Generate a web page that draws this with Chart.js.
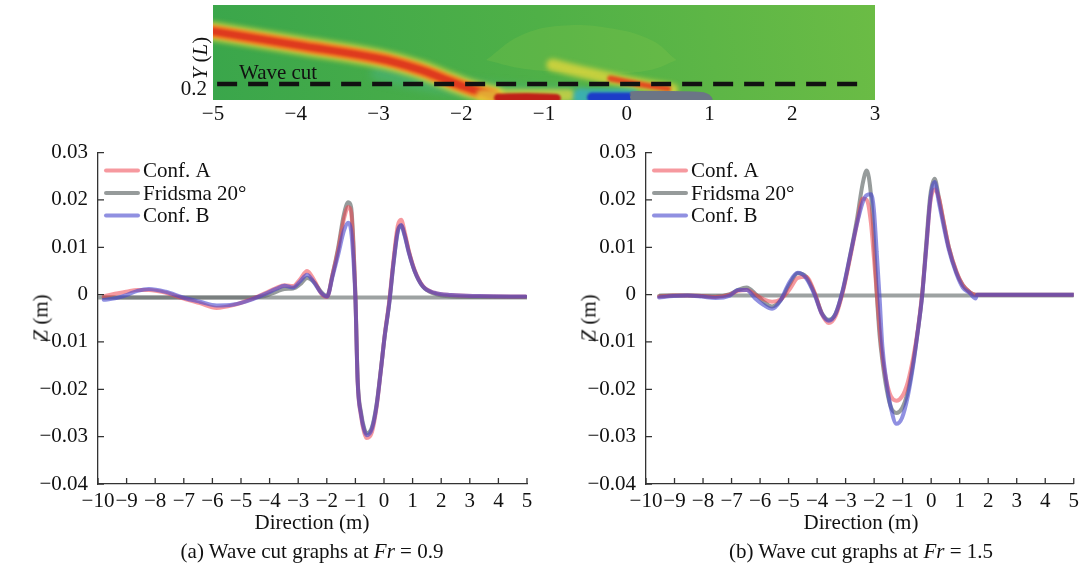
<!DOCTYPE html>
<html>
<head>
<meta charset="utf-8">
<script src="https://cdn.jsdelivr.net/npm/chart.js@4.4.1/dist/chart.umd.min.js"></script>
<style>
  html, body { margin: 0; padding: 0; background: #fff; }
  #page { position: relative; width: 1084px; height: 572px; overflow: hidden;
          font-family: 'Liberation Serif', 'DejaVu Serif', serif; color: #111; }
  canvas { position: absolute; }
  .txt { position: absolute; font-size: 21px; line-height: 1; white-space: nowrap; }
  .ctr { transform: translate(-50%, -50%); }
  .rot { transform: translate(-50%, -50%) rotate(-90deg); }
</style>
</head>
<body>
<div id="page">
  <canvas id="topView" width="760" height="130" style="left:150px;top:0"></canvas>
  <canvas id="fr09" width="540" height="390" style="left:0;top:130px"></canvas>
  <canvas id="fr15" width="544" height="390" style="left:540px;top:130px"></canvas>

  <div class="txt" style="left:239px;top:62px">Wave cut</div>
  <div class="txt rot" style="left:200px;top:58px"><i>Y</i> (<i>L</i>)</div>

  <div class="txt rot" style="left:41px;top:318px"><i>Z</i> (m)</div>
  <div class="txt rot" style="left:589px;top:318px"><i>Z</i> (m)</div>
  <div class="txt ctr" style="left:312px;top:522px">Direction (m)</div>
  <div class="txt ctr" style="left:861px;top:522px">Direction (m)</div>
  <div class="txt ctr" style="left:312px;top:551px">(a) Wave cut graphs at <i>Fr</i> = 0.9</div>
  <div class="txt ctr" style="left:861px;top:551px">(b) Wave cut graphs at <i>Fr</i> = 1.5</div>
</div>

<script>
const serif = "'Liberation Serif', 'DejaVu Serif', serif"

// ---- wave cut, Fr = 0.9 ----
const fr09X = [-9.80, -9.41, -9.01, -8.62, -8.22, -7.63, -7.03, -6.44, -5.85, -5.26,
               -4.66, -4.17, -3.77, -3.48, -3.18, -2.93, -2.69, -2.44, -2.19, -1.99,
               -1.80, -1.60, -1.40, -1.25, -1.15, -1.07, -1.00, -0.92, -0.80, -0.69,
               -0.60, -0.42, -0.26, -0.11, 0.03, 0.18, 0.33, 0.48, 0.60, 0.72,
               0.87, 1.07, 1.36, 1.76, 2.35, 3.34, 4.95]
const fr09ConfA = [-0.0004, 0.0002, 0.0006, 0.0010, 0.0010, 0.0004, -0.0008, -0.0018, -0.0028, -0.0022,
                   -0.0010, 0.0003, 0.0014, 0.0020, 0.0018, 0.0033, 0.0050, 0.0030, 0.0002, -0.0005,
                   0.0042, 0.0095, 0.0160, 0.0185, 0.0175, 0.0100, -0.0003, -0.0185, -0.0258, -0.0292,
                   -0.0303, -0.0290, -0.0238, -0.0160, -0.0083, -0.0015, 0.0072, 0.0145, 0.0158, 0.0133,
                   0.0092, 0.0052, 0.0018, 0.0004, -0.0001, -0.0003, -0.0004]
const fr09Fridsma = [-0.0006, -0.0006, -0.0006, -0.0006, -0.0006, -0.0006, -0.0006, -0.0006, -0.0006, -0.0006,
                     -0.0006, -0.0003, 0.0006, 0.0012, 0.0013, 0.0022, 0.0035, 0.0026, 0.0005, -0.0003,
                     0.0042, 0.0100, 0.0170, 0.0195, 0.0185, 0.0110, 0.0000, -0.0180, -0.0250, -0.0283,
                     -0.0293, -0.0280, -0.0232, -0.0158, -0.0085, -0.0020, 0.0065, 0.0135, 0.0146, 0.0127,
                     0.0090, 0.0050, 0.0017, 0.0002, -0.0004, -0.0005, -0.0005]
const fr09ConfB = [-0.0011, -0.0008, -0.0001, 0.0008, 0.0012, 0.0006, -0.0006, -0.0015, -0.0023, -0.0021,
                   -0.0011, 0.0001, 0.0012, 0.0019, 0.0015, 0.0028, 0.0042, 0.0025, 0.0003, -0.0004,
                   0.0038, 0.0085, 0.0135, 0.0152, 0.0135, 0.0075, -0.0008, -0.0185, -0.0255, -0.0287,
                   -0.0297, -0.0283, -0.0235, -0.0160, -0.0085, -0.0020, 0.0065, 0.0132, 0.0147, 0.0125,
                   0.0088, 0.0050, 0.0017, 0.0004, -0.0001, -0.0003, -0.0004]
const fr09BaseX = [-10, 5]
const fr09Base = [-0.0006, -0.0006]

// ---- wave cut, Fr = 1.5 ----
const fr15X = [-9.54, -9.04, -8.55, -8.05, -7.56, -7.06, -6.77, -6.47, -6.17, -5.87,
               -5.58, -5.28, -4.98, -4.68, -4.39, -4.09, -3.84, -3.59, -3.35, -3.10,
               -2.85, -2.60, -2.40, -2.26, -2.11, -2.01, -1.91, -1.81, -1.71, -1.56,
               -1.41, -1.22, -1.02, -0.82, -0.62, -0.47, -0.32, -0.17, -0.03, 0.12,
               0.27, 0.42, 0.62, 0.88, 1.11, 1.36, 1.56, 1.61, 1.86, 2.85,
               4.0, 5.0]
const fr15ConfA = [-0.0004, -0.0002, -0.0002, -0.0003, -0.0005, 0.0000, 0.0008, 0.0010, 0.0000, -0.0010,
                   -0.0015, -0.0010, 0.0010, 0.0035, 0.0038, 0.0005, -0.0040, -0.0060, -0.0045, 0.0005,
                   0.0075, 0.0150, 0.0203, 0.0200, 0.0150, 0.0080, 0.0005, -0.0070, -0.0130, -0.0185,
                   -0.0215, -0.0224, -0.0215, -0.0185, -0.0130, -0.0075, 0.0000, 0.0100, 0.0195, 0.0222,
                   0.0205, 0.0160, 0.0100, 0.0050, 0.0020, 0.0005, 0.0000, 0.0000, 0.0000, 0.0000,
                   0.0000, 0.0000]
const fr15Fridsma = [-0.0003, -0.0002, -0.0002, -0.0003, -0.0004, 0.0001, 0.0010, 0.0015, 0.0002, -0.0015,
                     -0.0025, -0.0012, 0.0020, 0.0045, 0.0038, 0.0003, -0.0038, -0.0053, -0.0040, 0.0008,
                     0.0080, 0.0160, 0.0235, 0.0262, 0.0210, 0.0120, 0.0005, -0.0085, -0.0140, -0.0200,
                     -0.0238, -0.0250, -0.0240, -0.0205, -0.0140, -0.0078, -0.0003, 0.0110, 0.0210, 0.0245,
                     0.0205, 0.0158, 0.0100, 0.0048, 0.0020, 0.0005, 0.0000, 0.0000, 0.0000, 0.0000,
                     0.0000, 0.0000]
const fr15ConfB = [-0.0006, -0.0003, -0.0002, -0.0004, -0.0007, -0.0002, 0.0010, 0.0010, -0.0008, -0.0022,
                   -0.0030, -0.0012, 0.0025, 0.0046, 0.0035, 0.0000, -0.0040, -0.0055, -0.0040, 0.0010,
                   0.0080, 0.0150, 0.0195, 0.0210, 0.0212, 0.0180, 0.0090, -0.0005, -0.0110, -0.0188,
                   -0.0240, -0.0273, -0.0260, -0.0215, -0.0145, -0.0078, -0.0005, 0.0100, 0.0200, 0.0238,
                   0.0195, 0.0150, 0.0095, 0.0045, 0.0015, 0.0003, -0.0008, 0.0000, 0.0000, 0.0000,
                   0.0000, 0.0000]
const fr15BaseX = [-9.54, 5]
const fr15Base = [-0.0002, -0.0002]

const seriesNames = ['Conf. A', 'Fridsma 20\u00b0', 'Conf. B']

// ---- top view of the wave pattern (x and y in ship lengths) ----
const cutLevel = 0.2
const cutX = [-4.95, 2.9]
const crestX = [-1.7, -1.3, -0.8, -0.2, 0.3, 0.6]
const crestTop = [0.50, 0.80, 0.93, 0.90, 0.75, 0.50]
const crestBottom = [0.50, 0.40, 0.35, 0.33, 0.38, 0.50]
const troughX = [-3.0, -2.3, -1.7, -1.1, -0.6]
const troughY = [0.34, 0.20, 0.12, 0.08, 0.07]
const wakeX = [-5.0, -4.0, -3.0, -2.5, -2.2, -2.0, -1.8, -1.6]
const wakeY = [0.86, 0.69, 0.52, 0.38, 0.26, 0.18, 0.11, 0.06]
const bowX = [-0.9, -0.5, -0.1, 0.2, 0.55]
const bowY = [0.44, 0.34, 0.25, 0.19, 0.13]
const bowCoreX = [-0.2, 0.2, 0.5]
const bowCoreY = [0.27, 0.19, 0.14]
const sternX = [-1.55, -1.2, -0.85]
const sternY = [0.025, 0.03, 0.02]
const dipX = [-0.42, 0.04]
const dipY = [0.03, 0.03]
const hullX = [0.05, 0.05, 0.8, 0.93, 1.0, 1.03, 1.03]
const hullY = [0.0, 0.1, 0.1, 0.09, 0.06, 0.02, 0.0]

function pts(xs, ys) {
    return xs.map((x, i) => ({x, y: ys[i]}))
}

function minus(v) {
    return String(v).replace('-', '\u2212')
}

// optional soft edge per dataset
const blurPlugin = {
    id: 'blurPlugin',
    beforeDatasetDraw(chart, args) {
        const ds = chart.data.datasets[args.index]
        chart.ctx.save()
        if (ds.blur) chart.ctx.filter = `blur(${ds.blur}px)`
    },
    afterDatasetDraw(chart) {
        chart.ctx.restore()
    }
}

// tick marks pointing into the plot
const innerTicks = {
    id: 'innerTicks',
    afterDraw(chart) {
        const {ctx, scales: {x, y}} = chart
        ctx.save()
        ctx.strokeStyle = '#333'
        ctx.lineWidth = 1.3
        ctx.beginPath()
        x.ticks.forEach((t, i) => {
            const px = x.getPixelForTick(i)
            ctx.moveTo(px, x.top); ctx.lineTo(px, x.top - 6)
        })
        y.ticks.forEach((t, i) => {
            const py = y.getPixelForTick(i)
            ctx.moveTo(y.right, py); ctx.lineTo(y.right + 6, py)
        })
        ctx.stroke()
        ctx.restore()
    }
}

// legend drawn in the top left corner of the plot
const insideLegend = {
    id: 'insideLegend',
    afterDraw(chart) {
        const {ctx, chartArea} = chart
        ctx.save()
        ctx.font = `21px ${serif}`
        ctx.textBaseline = 'middle'
        ctx.lineCap = 'round'
        let row = 0
        chart.data.datasets.forEach(ds => {
            if (!ds.label) return
            const y = chartArea.top + 18 + row * 22.5
            ctx.strokeStyle = ds.borderColor
            ctx.lineWidth = ds.borderWidth
            ctx.beginPath()
            ctx.moveTo(chartArea.left + 8, y)
            ctx.lineTo(chartArea.left + 40, y)
            ctx.stroke()
            ctx.fillStyle = '#111'
            ctx.fillText(ds.label, chartArea.left + 45, y + 1)
            row++
        })
        ctx.restore()
    }
}

const colors = ['rgba(238,70,80,0.55)', 'rgba(105,112,112,0.7)', 'rgba(70,70,205,0.6)']

function waveCutChart(id, axisWidth, padRight, xs, series, baseX, base) {
    const lines = series.map((ys, i) => ({
        label: seriesNames[i],
        data: pts(xs, ys),
        showLine: true,
        borderColor: colors[i],
        borderWidth: 4,
        pointRadius: 0,
        cubicInterpolationMode: 'monotone',
        borderJoinStyle: 'round',
        borderCapStyle: 'round',
        blur: 0.6,
        order: [2, 3, 1][i]
    }))
    lines.push({
        data: pts(baseX, base),
        showLine: true,
        borderColor: 'rgba(105,112,112,0.65)',
        borderWidth: 4,
        pointRadius: 0,
        blur: 0.6,
        order: 4
    })
    const tickFont = {family: serif, size: 21}
    new Chart(document.getElementById(id), {
        type: 'scatter',
        data: {datasets: lines},
        options: {
            responsive: false,
            animation: false,
            layout: {padding: {top: 22, right: padRight, bottom: 0, left: 0}},
            plugins: {legend: {display: false}, tooltip: {enabled: false}},
            scales: {
                x: {
                    type: 'linear', min: -10, max: 5,
                    ticks: {stepSize: 1, autoSkip: false, maxRotation: 0, padding: 5,
                            font: tickFont, color: '#111', callback: v => minus(v)},
                    grid: {display: false, drawTicks: false},
                    border: {color: '#333', width: 1.3},
                    afterFit: s => { s.height = 36 }
                },
                y: {
                    type: 'linear', min: -0.04, max: 0.03,
                    ticks: {stepSize: 0.01, padding: 10, font: tickFont, color: '#111',
                            callback: v => { const r = Math.round(v * 100) / 100; return r === 0 ? '0' : minus(r) }},
                    grid: {display: false, drawTicks: false},
                    border: {color: '#333', width: 1.3},
                    afterFit: s => { s.width = axisWidth }
                }
            }
        },
        plugins: [blurPlugin, innerTicks, insideLegend]
    })
}

waveCutChart('fr09', 98, 13, fr09X, [fr09ConfA, fr09Fridsma, fr09ConfB], fr09BaseX, fr09Base)
waveCutChart('fr15', 106, 7, fr15X, [fr15ConfA, fr15Fridsma, fr15ConfB], fr15BaseX, fr15Base)

// ---- top view ----
const seaPlugin = {
    id: 'seaPlugin',
    beforeDatasetsDraw(chart) {
        const {ctx, chartArea: a} = chart
        const g = ctx.createLinearGradient(a.left, a.bottom, a.right, a.top)
        g.addColorStop(0, '#3aa64b')
        g.addColorStop(0.5, '#4fb047')
        g.addColorStop(1, '#6bbc45')
        ctx.save()
        ctx.fillStyle = g
        ctx.fillRect(a.left, a.top, a.right - a.left, a.bottom - a.top)
        ctx.restore()
    }
}

function band(xs, ys, color, width, blur, extra) {
    return Object.assign({
        data: pts(xs, ys), showLine: true, borderColor: color, borderWidth: width,
        pointRadius: 0, tension: 0.4, borderCapStyle: 'round', blur, clip: 0
    }, extra || {})
}

const viewLayers = [
    band(crestX, crestTop, 'rgba(0,0,0,0)', 0, 0, {fill: '+1', backgroundColor: 'rgba(150,205,75,0.2)'}),
    band(crestX, crestBottom, 'rgba(0,0,0,0)', 0, 0),
    band(troughX, troughY, 'rgba(80,185,160,0.35)', 16, 4),
    band(wakeX, wakeY, 'rgba(225,215,60,0.8)', 19, 2.5),
    band(wakeX, wakeY, '#ee7a22', 13, 1.5),
    band(wakeX, wakeY, '#de3a1e', 7, 1),
    band(bowX, bowY, 'rgba(225,215,60,0.8)', 12, 2.5),
    band(bowCoreX, bowCoreY, '#e24a20', 6, 1.5),
    band([-1.75, -0.7], [0.06, 0.06], 'rgba(230,215,60,0.7)', 12, 2),
    band(sternX, sternY, '#c02018', 9, 1),
    band([-0.55, 0.05], [0.045, 0.045], 'rgba(50,175,210,0.7)', 16, 2),
    band(dipX, dipY, '#1c3cc8', 10, 1),
    band(hullX, hullY, '#6b7586', 1, 0, {tension: 0.2, fill: 'origin', backgroundColor: '#6b7586'}),
    band(cutX, [cutLevel, cutLevel], '#111', 4.5, 0, {tension: 0, borderCapStyle: 'butt', borderDash: [20, 11]})
]
viewLayers.forEach((ds, i) => { ds.order = -i })

new Chart(document.getElementById('topView'), {
    type: 'scatter',
    data: {datasets: viewLayers},
    options: {
        responsive: false,
        animation: false,
        layout: {padding: {top: 5, right: 35, bottom: 0, left: 0}},
        plugins: {legend: {display: false}, tooltip: {enabled: false}},
        scales: {
            x: {
                type: 'linear', min: -5, max: 3,
                ticks: {stepSize: 1, padding: 2, font: {family: serif, size: 21}, color: '#111',
                        callback: v => minus(v)},
                grid: {display: false, drawTicks: false},
                border: {display: false},
                afterFit: s => { s.height = 30 }
            },
            y: {
                type: 'linear', min: 0, max: 1.19,
                afterBuildTicks: s => { s.ticks = [{value: cutLevel}] },
                ticks: {padding: 6, labelOffset: 5, font: {family: serif, size: 21}, color: '#111',
                        callback: v => v.toFixed(1)},
                grid: {display: false, drawTicks: false},
                border: {display: false},
                afterFit: s => { s.width = 63; s.paddingTop = 0; s.paddingBottom = 0 }
            }
        }
    },
    plugins: [seaPlugin, blurPlugin]
})
</script>
</body>
</html>
